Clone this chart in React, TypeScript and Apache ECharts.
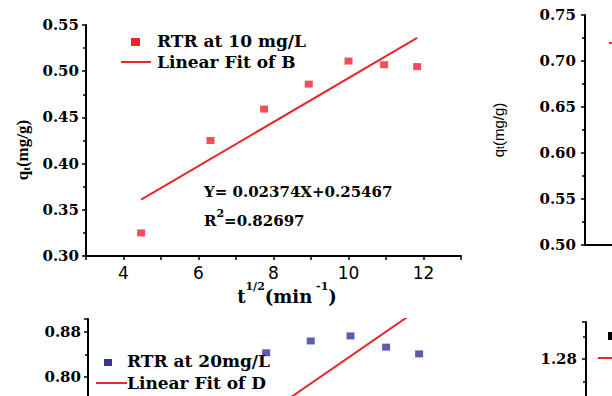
import React, { useEffect, useRef } from 'react';
import * as echarts from 'echarts';

// ---- data ----
const tSqrt = [4.47, 6.32, 7.75, 8.94, 10.0, 10.95, 11.83];
const qRTR10 = [0.325, 0.425, 0.459, 0.486, 0.511, 0.507, 0.505];
const fitBX = [4.47, 11.83];
const fitBY = [0.361, 0.536];
const qRTR20 = [0.54, 0.6, 0.843, 0.864, 0.873, 0.853, 0.841];
const fitDX = [4.47, 11.83];
const fitDY = [0.583, 0.921];
const xTickLabels = [4, 6, 8, 10, 12];
const yLabelsTopLeft = [0.3, 0.35, 0.4, 0.45, 0.5, 0.55];
const yLabelsTopRight = [0.5, 0.55, 0.6, 0.65, 0.7, 0.75];
const yLabelsBottomLeft = [0.8, 0.88];
const yLabelsBottomRight = [1.28];
const eqText = 'Y= 0.02374X+0.25467';
const r2Value = '=0.82697';
const legendB = ['RTR at 10 mg/L', 'Linear Fit of B'];
const legendD = ['RTR at 20mg/L', 'Linear Fit of D'];

const RED = '#E8262B';
const NAVY = '#34349A';
const SERIF = '"DejaVu Serif", serif';
const TIMES = '"Liberation Serif", serif';
const SANS = '"DejaVu Sans", sans-serif';
const ARIAL = '"Liberation Sans", sans-serif';

const axisLine = { show: true, onZero: false, lineStyle: { color: '#000', width: 2 } };
const majorTick = { show: true, inside: false, length: 4, lineStyle: { color: '#000', width: 1.5 } };
const minorTick = { show: true, splitNumber: 2, length: 3, lineStyle: { color: '#000', width: 1.5 } };
const yLabel = (list: number[]) => ({
  fontFamily: SERIF,
  fontWeight: 'bold' as const,
  fontSize: 15,
  color: '#000',
  margin: 7,
  formatter: (v: number) => (list.some((l) => Math.abs(l - v) < 1e-6) ? v.toFixed(2) : ''),
});

const pair = (xs: number[], ys: number[]) => xs.map((x, i) => [x, ys[i]]);

function legendText(text: string, x: number, y: number) {
  return {
    type: 'text',
    x,
    y,
    z: 10,
    style: {
      text,
      x: 0,
      y: 0,
      fill: '#000',
      fontFamily: SERIF,
      fontWeight: 'bold',
      fontSize: 17,
      align: 'left',
      verticalAlign: 'middle',
      textAlign: 'left',
      textVerticalAlign: 'middle',
    },
  };
}

export default function App() {
  const ref = useRef<HTMLDivElement>(null);

  useEffect(() => {
    document.body.style.margin = '0';
    if (!ref.current) return;
    const chart = echarts.init(ref.current, undefined, { renderer: 'svg' });

    const option: any = {
      animation: false,
      backgroundColor: '#fff',
      grid: [
        { left: 86, top: 25, width: 375, height: 231, outerBoundsMode: 'none', containLabel: false },
        { left: 585, top: 15, width: 300, height: 230, outerBoundsMode: 'none', containLabel: false },
        { left: 88, top: 319, width: 375, height: 103, outerBoundsMode: 'none', containLabel: false },
        { left: 586, top: 322, width: 300, height: 127, outerBoundsMode: 'none', containLabel: false },
      ],
      xAxis: [
        {
          gridIndex: 0,
          type: 'value',
          min: 3,
          max: 13,
          interval: 1,
          axisLine,
          axisTick: majorTick,
          splitLine: { show: false },
          axisLabel: {
            fontFamily: SANS,
            fontSize: 17,
            color: '#000',
            margin: 8,
            formatter: (v: number) => (xTickLabels.includes(v) ? String(v) : ''),
          },
        },
        {
          gridIndex: 1,
          type: 'value',
          min: 0,
          max: 10,
          axisLine,
          axisTick: { show: false },
          axisLabel: { show: false },
          splitLine: { show: false },
        },
        { gridIndex: 2, type: 'value', min: 3, max: 13, show: false },
        { gridIndex: 3, type: 'value', min: 3, max: 13, show: false },
      ],
      yAxis: [
        {
          gridIndex: 0,
          type: 'value',
          min: 0.3,
          max: 0.55,
          interval: 0.05,
          axisLine,
          axisTick: majorTick,
          minorTick,
          splitLine: { show: false },
          axisLabel: yLabel(yLabelsTopLeft),
        },
        {
          gridIndex: 1,
          type: 'value',
          min: 0.5,
          max: 0.75,
          interval: 0.05,
          axisLine,
          axisTick: majorTick,
          minorTick,
          splitLine: { show: false },
          axisLabel: { ...yLabel(yLabelsTopRight), margin: 9 },
        },
        {
          gridIndex: 2,
          type: 'value',
          min: 0.72,
          max: 0.903,
          interval: 0.08,
          axisLine,
          axisTick: majorTick,
          minorTick,
          splitLine: { show: false },
          axisLabel: { ...yLabel(yLabelsBottomLeft), showMaxLabel: false, showMinLabel: false },
        },
        {
          gridIndex: 3,
          type: 'value',
          min: 1.12,
          max: 1.346,
          interval: 0.08,
          axisLine,
          axisTick: majorTick,
          minorTick,
          splitLine: { show: false },
          axisLabel: { ...yLabel(yLabelsBottomRight), showMaxLabel: false, showMinLabel: false, margin: 9 },
        },
      ],
      series: [
        {
          name: legendB[0],
          type: 'scatter',
          xAxisIndex: 0,
          yAxisIndex: 0,
          symbol: 'rect',
          symbolSize: [8, 7],
          itemStyle: { color: RED },
          data: pair(tSqrt, qRTR10),
          z: 3,
        },
        {
          name: legendB[1],
          type: 'line',
          xAxisIndex: 0,
          yAxisIndex: 0,
          showSymbol: false,
          symbol: 'none',
          lineStyle: { color: RED, width: 2 },
          data: pair(fitBX, fitBY),
        },
        {
          name: 'empty',
          type: 'scatter',
          xAxisIndex: 1,
          yAxisIndex: 1,
          data: [],
        },
        {
          name: legendD[0],
          type: 'scatter',
          xAxisIndex: 2,
          yAxisIndex: 2,
          symbol: 'rect',
          symbolSize: [8, 7],
          itemStyle: { color: NAVY },
          data: pair(tSqrt, qRTR20),
          z: 3,
        },
        {
          name: legendD[1],
          type: 'line',
          xAxisIndex: 2,
          yAxisIndex: 2,
          showSymbol: false,
          symbol: 'none',
          clip: true,
          lineStyle: { color: RED, width: 2 },
          data: pair(fitDX, fitDY),
        },
        {
          name: 'empty2',
          type: 'scatter',
          xAxisIndex: 3,
          yAxisIndex: 3,
          data: [],
        },
      ],
      graphic: [
        // y-axis title, top-left panel
        {
          type: 'text',
          x: 20,
          y: 150,
          rotation: Math.PI / 2,
          style: {
            text: '{a|q}{s|t}{a|(mg/g)}',
            x: 0,
            y: 0,
            fill: '#000',
            align: 'center',
            verticalAlign: 'middle',
            textAlign: 'center',
            textVerticalAlign: 'middle',
            rich: {
              a: { fontFamily: TIMES, fontWeight: 'bold', fontSize: 17, lineHeight: 22, verticalAlign: 'bottom', fill: '#000' },
              s: { fontFamily: TIMES, fontWeight: 'bold', fontSize: 11, lineHeight: 11, verticalAlign: 'bottom', fill: '#000' },
            },
          },
        },
        // x-axis title, top-left panel
        {
          type: 'text',
          x: 287,
          y: 293,
          style: {
            text: '{a|t}{p|1/2}{a|(min}{p| -1}{a|)}',
            x: 0,
            y: 0,
            fill: '#000',
            align: 'center',
            verticalAlign: 'middle',
            textAlign: 'center',
            textVerticalAlign: 'middle',
            rich: {
              a: { fontFamily: SERIF, fontWeight: 'bold', fontSize: 18, lineHeight: 24, verticalAlign: 'bottom', fill: '#000' },
              p: { fontFamily: SERIF, fontWeight: 'bold', fontSize: 11, lineHeight: 14, verticalAlign: 'top', fill: '#000' },
            },
          },
        },
        // fit equation
        {
          type: 'text',
          x: 204,
          y: 192,
          style: {
            text: eqText,
            x: 0,
            y: 0,
            fill: '#000',
            fontFamily: SERIF,
            fontWeight: 'bold',
            fontSize: 15,
            align: 'left',
            verticalAlign: 'middle',
            textAlign: 'left',
            textVerticalAlign: 'middle',
          },
        },
        {
          type: 'text',
          x: 204,
          y: 218,
          style: {
            text: '{a|R}{p|2}{a|' + r2Value + '}',
            x: 0,
            y: 0,
            fill: '#000',
            align: 'left',
            verticalAlign: 'middle',
            textAlign: 'left',
            textVerticalAlign: 'middle',
            rich: {
              a: { fontFamily: SERIF, fontWeight: 'bold', fontSize: 15, lineHeight: 20, verticalAlign: 'bottom', fill: '#000' },
              p: { fontFamily: SERIF, fontWeight: 'bold', fontSize: 11, lineHeight: 14, verticalAlign: 'top', fill: '#000' },
            },
          },
        },
        // legend, top-left
        { type: 'rect', z: 10, shape: { x: 131, y: 38, width: 9, height: 8 }, style: { fill: RED } },
        legendText(legendB[0], 157, 41),
        { type: 'line', z: 10, shape: { x1: 121, y1: 62, x2: 151, y2: 62 }, style: { stroke: RED, lineWidth: 2 } },
        legendText(legendB[1], 157, 62),
        // y-axis title, top-right panel
        {
          type: 'text',
          x: 496,
          y: 130,
          rotation: Math.PI / 2,
          style: {
            text: '{a|q}{s|t}{a|(mg/g)}',
            x: 0,
            y: 0,
            fill: '#000',
            align: 'center',
            verticalAlign: 'middle',
            textAlign: 'center',
            textVerticalAlign: 'middle',
            rich: {
              a: { fontFamily: ARIAL, fontSize: 15, lineHeight: 19, verticalAlign: 'bottom', fill: '#000' },
              s: { fontFamily: ARIAL, fontSize: 10, lineHeight: 10, verticalAlign: 'bottom', fill: '#000' },
            },
          },
        },
        // partial legend mark, top-right
        { type: 'line', z: 10, shape: { x1: 609, y1: 43, x2: 630, y2: 43 }, style: { stroke: RED, lineWidth: 2 } },
        // legend, bottom-left
        { type: 'rect', z: 10, shape: { x: 104, y: 359, width: 8, height: 7 }, style: { fill: NAVY } },
        legendText(legendD[0], 127, 361),
        { type: 'line', z: 10, shape: { x1: 96, y1: 383, x2: 127, y2: 383 }, style: { stroke: RED, lineWidth: 2 } },
        legendText(legendD[1], 127, 383),
        // partial legend, bottom-right
        { type: 'rect', z: 10, shape: { x: 608, y: 332, width: 9, height: 8 }, style: { fill: '#000' } },
        { type: 'line', z: 10, shape: { x1: 598, y1: 358, x2: 630, y2: 358 }, style: { stroke: RED, lineWidth: 2 } },
      ],
    };

    chart.setOption(option);
    return () => chart.dispose();
  }, []);

  return <div ref={ref} style={{ width: 612, height: 396 }} />;
}
